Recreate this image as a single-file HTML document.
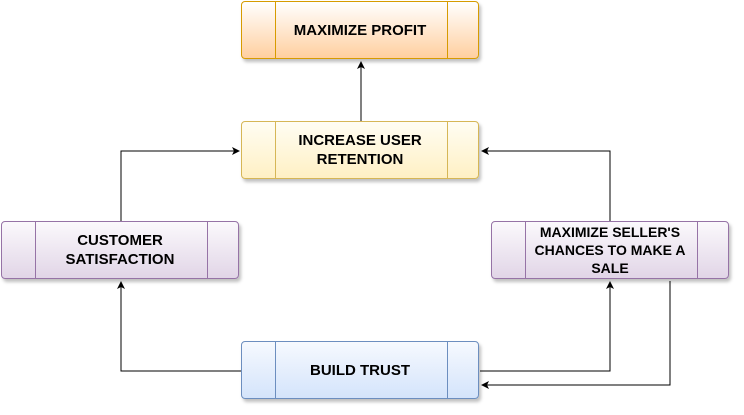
<html><body style="margin:0;width:744px;height:415px;background:#fff;position:relative;font-family:'Liberation Sans',Arial,sans-serif">
<style>
.b{position:absolute;width:238px;height:58px;border-radius:4px;box-shadow:2px 3px 3px rgba(0,0,0,.25);display:flex;align-items:center;justify-content:center;text-align:center;font-weight:bold;font-size:15px;line-height:19px;box-sizing:border-box;color:#000}
.o{background:linear-gradient(#fff,#ffcf9f);border:1.5px solid #d79b00}
.y{background:linear-gradient(#fffdf3,#fff0c4);border:1.5px solid #d6b656}
.p{background:linear-gradient(#fbf9fc,#e1d5e7);border:1.5px solid #9673a6}
.u{background:linear-gradient(#f6f9fe,#d4e4fb);border:1.5px solid #6c8ebf}
.l{position:absolute;top:0;bottom:0;left:33px;width:0}
.r{position:absolute;top:0;bottom:0;left:205px;width:0}
.o .l,.o .r{border-left:1px solid #d79b00}.y .l,.y .r{border-left:1px solid #d6b656}
.p .l,.p .r{border-left:1px solid #9673a6}.u .l,.u .r{border-left:1px solid #6c8ebf}
.t{width:170px;position:relative}
</style>
<svg width="744" height="415" style="position:absolute;left:0;top:0">
<defs><marker id="a" markerWidth="8" markerHeight="8" refX="7" refY="4" orient="auto" markerUnits="userSpaceOnUse"><path d="M0,0 L8,4 L0,8 L2,4z" fill="#000"/></marker></defs>
<g fill="none" stroke="#000" stroke-width="1">
<path d="M361,121 V62" marker-end="url(#a)"/>
<path d="M121,221 V151 H239" marker-end="url(#a)"/>
<path d="M610,221 V151 H482" marker-end="url(#a)"/>
<path d="M241,371 H121 V282" marker-end="url(#a)"/>
<path d="M480,371 H610 V282" marker-end="url(#a)"/>
<path d="M670,281 V385 H482" marker-end="url(#a)"/>
</g></svg>
<div class="b o" style="left:241px;top:1px"><i class="l"></i><i class="r"></i><span class="t">MAXIMIZE PROFIT</span></div>
<div class="b y" style="left:241px;top:121px"><i class="l"></i><i class="r"></i><span class="t">INCREASE USER RETENTION</span></div>
<div class="b p" style="left:1px;top:221px"><i class="l"></i><i class="r"></i><span class="t" style="width:150px">CUSTOMER SATISFACTION</span></div>
<div class="b p" style="left:491px;top:221px"><i class="l"></i><i class="r"></i><span class="t" style="font-size:14px;line-height:18px">MAXIMIZE SELLER'S CHANCES TO MAKE A SALE</span></div>
<div class="b u" style="left:241px;top:341px"><i class="l"></i><i class="r"></i><span class="t">BUILD TRUST</span></div>
</body></html>
